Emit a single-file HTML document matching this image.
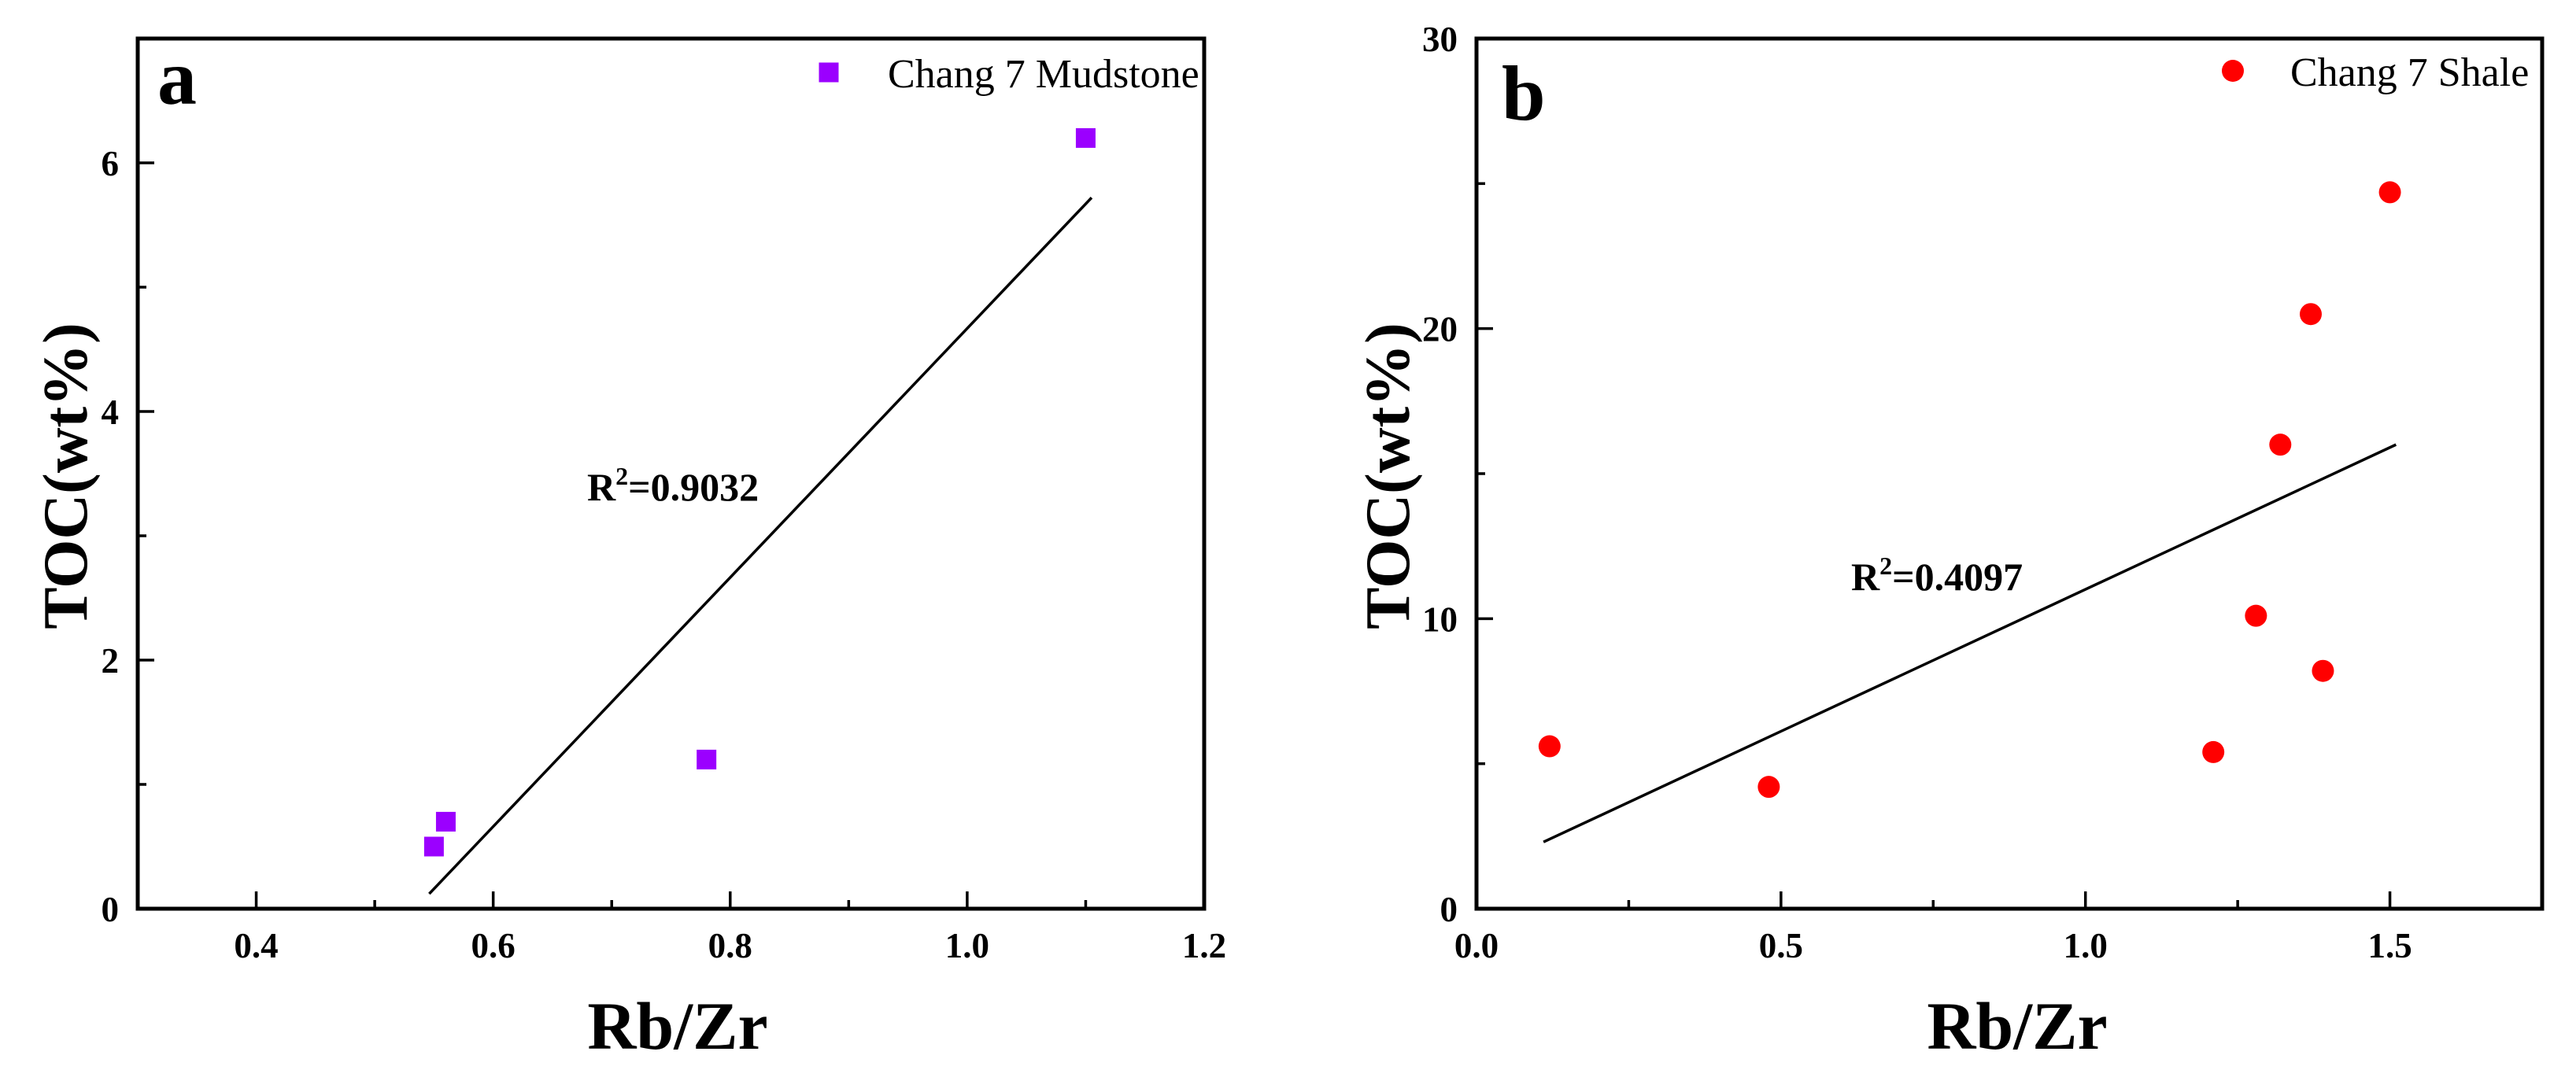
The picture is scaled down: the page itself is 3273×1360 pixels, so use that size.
<!DOCTYPE html>
<html><head><meta charset="utf-8"><style>
html,body{margin:0;padding:0;background:#fff;}
svg{display:block;font-family:"Liberation Serif",serif;}
</style></head><body>
<svg id="chart" width="3273" height="1360" viewBox="0 0 3273 1360" xmlns="http://www.w3.org/2000/svg"></svg>
<script>
// Panel a data
const aX = [0.55, 0.56, 0.78, 1.10];
const aY = [0.5, 0.7, 1.2, 6.2];
const aFitX = [0.546, 1.105];
const aFitY = [0.12, 5.72];
const aXTicks = [0.4, 0.6, 0.8, 1.0, 1.2];
const aXTickLabels = ["0.4", "0.6", "0.8", "1.0", "1.2"];
const aYTicks = [0, 2, 4, 6];
const aYTickLabels = ["0", "2", "4", "6"];
// Panel b data
const bX = [0.12, 0.48, 1.21, 1.28, 1.32, 1.37, 1.39, 1.50];
const bY = [5.6, 4.2, 5.4, 10.1, 16.0, 20.5, 8.2, 24.7];
const bFitX = [0.11, 1.51];
const bFitY = [2.3, 16.0];
const bXTicks = [0.0, 0.5, 1.0, 1.5];
const bXTickLabels = ["0.0", "0.5", "1.0", "1.5"];
const bYTicks = [0, 10, 20, 30];
const bYTickLabels = ["0", "10", "20", "30"];

const NS = "http://www.w3.org/2000/svg";
const svg = document.getElementById("chart");
function mk(tag, attrs, parent, text){
  const e = document.createElementNS(NS, tag);
  for (const k in attrs) e.setAttribute(k, attrs[k]);
  if (text !== undefined) e.textContent = text;
  (parent||svg).appendChild(e);
  return e;
}

function panel(cfg){
  const g = mk("g", {});
  
  
  const sx = v => cfg.left + (v - cfg.xmin) / (cfg.xmax - cfg.xmin) * (cfg.right - cfg.left);
  const sy = v => cfg.bottom - (v - cfg.ymin) / (cfg.ymax - cfg.ymin) * (cfg.bottom - cfg.top);
  const box = mk("rect", {x:cfg.left, y:cfg.top, width:cfg.right-cfg.left, height:cfg.bottom-cfg.top, fill:"none", stroke:"#000", "stroke-width":5}, g);
  
  
  cfg.xt.forEach((v,i)=>{
    const x = sx(v);
    const t = mk("line", {x1:x, x2:x, y1:cfg.bottom, y2:cfg.bottom-22, stroke:"#000", "stroke-width":3.5}, g);
    
    
    const l = mk("text", {x:x, y:cfg.bottom+62, "text-anchor":"middle", "font-size":45, "font-weight":"bold"}, g, cfg.xl[i]);
    
    
    if (i < cfg.xt.length - 1) {
      const m = sx((v + cfg.xt[i+1]) / 2);
      const mt = mk("line", {x1:m, x2:m, y1:cfg.bottom, y2:cfg.bottom-11, stroke:"#000", "stroke-width":3.5}, g);
      
      
    }
  });
  cfg.yt.forEach((v,i)=>{
    const y = sy(v);
    const t = mk("line", {x1:cfg.left, x2:cfg.left+21, y1:y, y2:y, stroke:"#000", "stroke-width":3.5}, g);
    
    
    const l = mk("text", {x:cfg.left-24, y:y+16, "text-anchor":"end", "font-size":45, "font-weight":"bold"}, g, cfg.yl[i]);
    
    
    const nv = (i < cfg.yt.length - 1) ? (v + cfg.yt[i+1]) / 2 : v + (v - cfg.yt[i-1]) / 2;
    if (nv < cfg.ymax) {
      const m = sy(nv);
      const mt = mk("line", {x1:cfg.left, x2:cfg.left+11, y1:m, y2:m, stroke:"#000", "stroke-width":3.5}, g);
      
      
    }
  });
  const fl = mk("line", {x1:sx(cfg.fx[0]), y1:sy(cfg.fy[0]), x2:sx(cfg.fx[1]), y2:sy(cfg.fy[1]), stroke:"#000", "stroke-width":3.5}, g);
  
  
  cfg.px.forEach((v,i)=>{
    const x = sx(v), y = sy(cfg.py[i]);
    let p;
    if (cfg.marker === "square") p = mk("rect", {x:x-12.5, y:y-12.5, width:25, height:25, fill:cfg.color}, g);
    else p = mk("ellipse", {cx:x, cy:y, rx:14, ry:14, fill:cfg.color}, g);
    
    
  });
  const lg = mk("g", {}, g);
  
  
  if (cfg.marker === "square") mk("rect", {x:cfg.legX-12.5, y:cfg.legY-12.5, width:25, height:25, fill:cfg.color}, lg);
  else mk("ellipse", {cx:cfg.legX, cy:cfg.legY, rx:14, ry:14, fill:cfg.color}, lg);
  const lt = mk("text", {x:cfg.legTX, y:cfg.legY+19, "font-size":52}, lg, cfg.legend);
  
  
  const pl = mk("text", {x:cfg.letterX, y:cfg.letterY, "font-size":100, "font-weight":"bold"}, g, cfg.letter);
  
  
  const r = mk("text", {x:cfg.r2x, y:cfg.r2y, "font-size":50, "font-weight":"bold"}, g);
  
  
  mk("tspan", {}, r, "R");
  mk("tspan", {dy:-20, "font-size":32}, r, "2");
  mk("tspan", {dy:20}, r, "=" + cfg.r2);
  const xt = mk("text", {x:cfg.xtX, y:1333, "text-anchor":"middle", "font-size":86, "font-weight":"bold"}, g, "Rb/Zr");
  
  
  const yx = cfg.ytX, yy = cfg.ytY;
  const yt = mk("text", {x:yx, y:yy, "text-anchor":"middle", "font-size":80, "font-weight":"bold", transform:`rotate(-90 ${yx} ${yy})`}, g, "TOC(wt%)");
  
  
}

panel({name:"panel-a", left:175, right:1530, top:49, bottom:1155, xmin:0.3, xmax:1.2, ymin:0, ymax:7,
  xt:aXTicks, xl:aXTickLabels, yt:aYTicks, yl:aYTickLabels, px:aX, py:aY, fx:aFitX, fy:aFitY,
  marker:"square", color:"#9b00ff", legX:1053, legY:92, legTX:1128, legend:"Chang 7 Mudstone", letter:"a", letterX:200, letterY:132,
  r2x:746, r2y:636, r2:"0.9032", ytX:110, ytY:605, xtX:861});
panel({name:"panel-b", left:1876, right:3230, top:49, bottom:1155, xmin:0, xmax:1.75, ymin:0, ymax:30,
  xt:bXTicks, xl:bXTickLabels, yt:bYTicks, yl:bYTickLabels, px:bX, py:bY, fx:bFitX, fy:bFitY,
  marker:"circle", color:"#ff0000", legX:2837, legY:90, legTX:2910, legend:"Chang 7 Shale", letter:"b", letterX:1908, letterY:152,
  r2x:2352, r2y:750, r2:"0.4097", ytX:1790, ytY:605, xtX:2563});
</script>
</body></html>
